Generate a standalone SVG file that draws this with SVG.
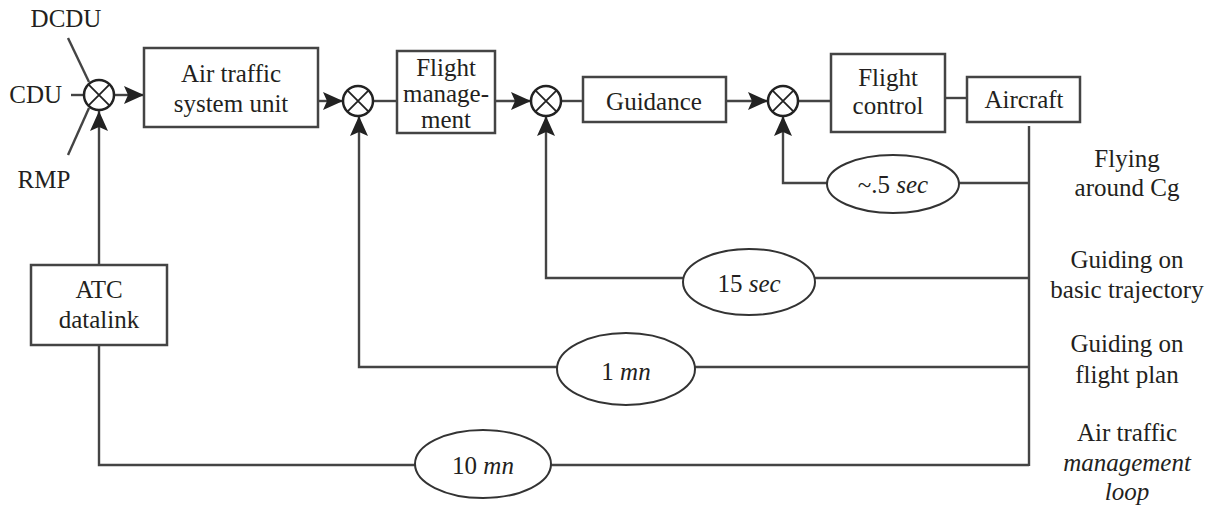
<svg xmlns="http://www.w3.org/2000/svg" width="1219" height="508" viewBox="0 0 1219 508">
<defs>
<marker id="arr" markerUnits="userSpaceOnUse" markerWidth="22" markerHeight="18" refX="20" refY="9" orient="auto">
<path d="M0,0 L20,9 L0,18 L4,9 Z" fill="#222"/>
</marker>
</defs>
<style>
text{font-family:'Liberation Serif','DejaVu Serif',serif;font-size:25px;fill:#231f20}
.m{text-anchor:middle}
.i{font-style:italic}
.box{fill:#fff;stroke:#444;stroke-width:2.5}
.ell{fill:#fff;stroke:#333;stroke-width:2}
.sum{fill:#fff;stroke:#222;stroke-width:2.5}
.x{stroke:#222;stroke-width:1.8}
.ln{fill:none;stroke:#444;stroke-width:2.4}
.a{marker-end:url(#arr)}
</style>
<rect width="1219" height="508" fill="#fff"/>
<g id="connectors">
<path class="ln" d="M68,38 L89,82"/>
<path class="ln" d="M71,95 L84,95"/>
<path class="ln" d="M68,155 L89,108"/>
<path class="ln a" d="M114,95 L144,95"/>
<path class="ln a" d="M99,265 L99,111"/>
<path class="ln a" d="M318,101 L343,101"/>
<path class="ln" d="M373,101 L397,101"/>
<path class="ln a" d="M495,101 L531,101"/>
<path class="ln" d="M561,101 L583,101"/>
<path class="ln a" d="M726,101 L768,101"/>
<path class="ln" d="M798,101 L831,101"/>
<path class="ln" d="M945,98 L967,98"/>
<path class="ln" d="M1029,126 L1029,466"/>
<path class="ln" d="M1029,183 L958,183"/>
<path class="ln a" d="M828,183 L783,183 L783,116"/>
<path class="ln" d="M1029,278 L814,278"/>
<path class="ln a" d="M684,278 L546,278 L546,116"/>
<path class="ln" d="M1029,367 L694,367"/>
<path class="ln a" d="M558,367 L359,367 L359,116"/>
<path class="ln" d="M1029,465 L550,465"/>
<path class="ln" d="M416,465 L99,465 L99,345"/>
</g>
<g id="sum1"><circle class="sum" cx="99" cy="95" r="15"/><path class="x" d="M88.4,84.4 L109.6,105.6 M109.6,84.4 L88.4,105.6"/></g>
<g id="sum2"><circle class="sum" cx="358" cy="101" r="15"/><path class="x" d="M347.4,90.4 L368.6,111.6 M368.6,90.4 L347.4,111.6"/></g>
<g id="sum3"><circle class="sum" cx="546" cy="101" r="15"/><path class="x" d="M535.4,90.4 L556.6,111.6 M556.6,90.4 L535.4,111.6"/></g>
<g id="sum4"><circle class="sum" cx="783" cy="101" r="15"/><path class="x" d="M772.4,90.4 L793.6,111.6 M793.6,90.4 L772.4,111.6"/></g>
<g id="air-traffic-system-unit"><rect class="box" x="144" y="48" width="174" height="79"/>
<text class="m" x="231" y="82">Air traffic</text><text class="m" x="231" y="112">system unit</text></g>
<g id="flight-management"><rect class="box" x="397" y="51" width="98" height="82"/>
<text class="m" x="446" y="76">Flight</text><text class="m" x="446" y="102">manage-</text><text class="m" x="446" y="128">ment</text></g>
<g id="guidance"><rect class="box" x="583" y="77" width="143" height="45"/>
<text class="m" x="654" y="110">Guidance</text></g>
<g id="flight-control"><rect class="box" x="831" y="54" width="114" height="78"/>
<text class="m" x="888" y="86">Flight</text><text class="m" x="888" y="114">control</text></g>
<g id="aircraft"><rect class="box" x="967" y="77" width="113" height="45"/>
<text class="m" x="1024" y="108">Aircraft</text></g>
<g id="atc-datalink"><rect class="box" x="31" y="265" width="136" height="80"/>
<text class="m" x="99" y="298">ATC</text><text class="m" x="99" y="328">datalink</text></g>
<g id="delay-05"><ellipse class="ell" cx="893" cy="184" rx="66" ry="29"/>
<text class="m" x="893" y="193">~.5 <tspan class="i">sec</tspan></text></g>
<g id="delay-15"><ellipse class="ell" cx="749" cy="282" rx="66" ry="33"/>
<text class="m" x="749" y="292">15 <tspan class="i">sec</tspan></text></g>
<g id="delay-1mn"><ellipse class="ell" cx="626" cy="369" rx="69" ry="36"/>
<text class="m" x="626" y="380">1 <tspan class="i">mn</tspan></text></g>
<g id="delay-10mn"><ellipse class="ell" cx="483" cy="464" rx="68" ry="34"/>
<text class="m" x="483" y="474">10 <tspan class="i">mn</tspan></text></g>
<g id="inputs">
<text class="m" x="66" y="27">DCDU</text>
<text x="62" y="103" text-anchor="end">CDU</text>
<text class="m" x="44" y="188">RMP</text>
</g>
<g id="loop-labels">
<text class="m" x="1127" y="167">Flying</text><text class="m" x="1127" y="196">around Cg</text>
<text class="m" x="1127" y="268">Guiding on</text><text class="m" x="1127" y="298">basic trajectory</text>
<text class="m" x="1127" y="352">Guiding on</text><text class="m" x="1127" y="383">flight plan</text>
<text class="m" x="1127" y="441">Air traffic</text><text class="m i" x="1127" y="471">management</text><text class="m i" x="1127" y="500">loop</text>
</g>
</svg>
